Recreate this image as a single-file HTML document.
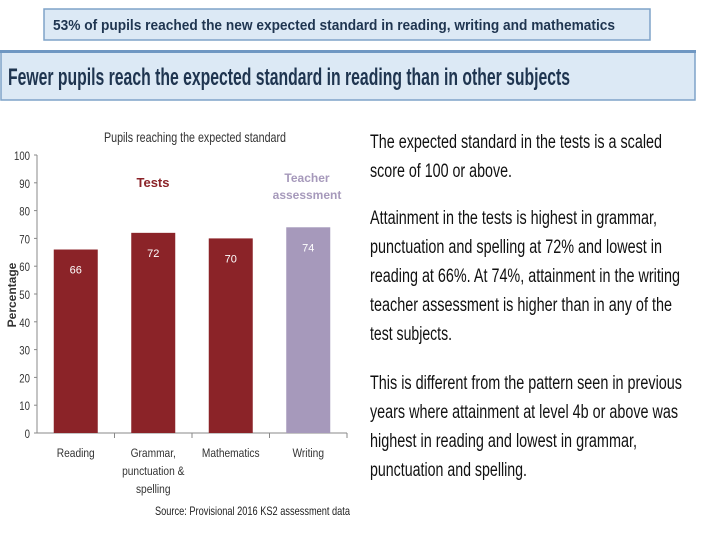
<!DOCTYPE html>
<html><head><meta charset="utf-8"><style>
body{margin:0;background:#fff;width:720px;height:540px;overflow:hidden;font-family:"Liberation Sans",sans-serif}
</style></head><body>
<svg width="720" height="540" xmlns="http://www.w3.org/2000/svg" font-family="Liberation Sans, sans-serif">
<rect x="44" y="9" width="606" height="31" fill="#dce9f5" stroke="#7fa3c8" stroke-width="1.5"/>
<text x="53" y="30" font-size="15" fill="#1f3550" textLength="562" lengthAdjust="spacingAndGlyphs" font-weight="bold">53% of pupils reached the new expected standard in reading, writing and mathematics</text>
<rect x="1" y="51" width="694" height="49" fill="#dce9f5" stroke="#7fa3c8" stroke-width="1.5"/>
<rect x="0" y="50" width="696" height="3" fill="#6f97c2"/>
<text x="8" y="85" font-size="24" fill="#1f3550" textLength="562" lengthAdjust="spacingAndGlyphs" font-weight="bold">Fewer pupils reach the expected standard in reading than in other subjects</text>
<g id="chart"></g>
<g font-size="19" fill="#111">
<text x="370" y="148" textLength="292" lengthAdjust="spacingAndGlyphs">The expected standard in the tests is a scaled</text>
<text x="370" y="177" textLength="142" lengthAdjust="spacingAndGlyphs">score of 100 or above.</text>
<text x="370" y="224" textLength="287" lengthAdjust="spacingAndGlyphs">Attainment in the tests is highest in grammar,</text>
<text x="370" y="253" textLength="292" lengthAdjust="spacingAndGlyphs">punctuation and spelling at 72% and lowest in</text>
<text x="370" y="282" textLength="310" lengthAdjust="spacingAndGlyphs">reading at 66%. At 74%, attainment in the writing</text>
<text x="370" y="311" textLength="302" lengthAdjust="spacingAndGlyphs">teacher assessment is higher than in any of the</text>
<text x="370" y="340" textLength="82" lengthAdjust="spacingAndGlyphs">test subjects.</text>
<text x="370" y="389" textLength="312" lengthAdjust="spacingAndGlyphs">This is different from the pattern seen in previous</text>
<text x="370" y="418" textLength="308" lengthAdjust="spacingAndGlyphs">years where attainment at level 4b or above was</text>
<text x="370" y="447" textLength="267" lengthAdjust="spacingAndGlyphs">highest in reading and lowest in grammar,</text>
<text x="370" y="476" textLength="157" lengthAdjust="spacingAndGlyphs">punctuation and spelling.</text>
</g>
</svg>
<script>
const categories=[["Reading"],["Grammar,","punctuation &","spelling"],["Mathematics"],["Writing"]];
const values=[66,72,70,74];
const valueLabels=["66","72","70","74"];
const yTicks=[0,10,20,30,40,50,60,70,80,90,100];
const NS="http://www.w3.org/2000/svg";
const g=document.getElementById('chart');
const x0=37,x1=347,yb=433,yt=155;
const y=v=>yb-(v/100)*(yb-yt);
const bw=(x1-x0)/values.length;
function mk(t,a,txt){const e=document.createElementNS(NS,t);for(const k in a)e.setAttribute(k,a[k]);if(txt!==undefined)e.textContent=txt;g.appendChild(e);return e;}
let e=mk('text',{x:195,y:142,'font-size':14,'text-anchor':'middle',fill:'#333',textLength:182,lengthAdjust:'spacingAndGlyphs'},'Pupils reaching the expected standard');


e=mk('line',{x1:x0,y1:yt,x2:x0,y2:yb,stroke:'#888'});


e=mk('line',{x1:x0,y1:yb,x2:x1,y2:yb,stroke:'#888'});


yTicks.forEach(t=>{
  mk('line',{x1:x0-3,y1:y(t),x2:x0,y2:y(t),stroke:'#888'});
  e=mk('text',{x:30,y:y(t)+5,'font-size':12,'text-anchor':'end',fill:'#333',transform:`translate(30 0) scale(0.8 1) translate(-30 0)`},t);
  
  
});
e=mk('text',{x:0,y:0,'font-size':12,'font-weight':'bold','text-anchor':'middle',fill:'#333',transform:'translate(16 295) rotate(-90)'},'Percentage');


values.forEach((v,i)=>{
  const cx=x0+bw*(i+0.5);
  mk('line',{x1:x0+bw*(i+1),y1:yb,x2:x0+bw*(i+1),y2:yb+5,stroke:'#888'});
  e=mk('rect',{x:cx-22,y:y(v),width:44,height:yb-y(v),fill:i==3?'#a699bb':'#8b2328'});
  
  
  e=mk('text',{x:cx,y:y(v)+24,'font-size':11,'text-anchor':'middle',fill:'#fff'},valueLabels[i]);
  
  
  categories[i].forEach((l,j)=>{
    e=mk('text',{x:cx,y:457+j*18,'font-size':12,'text-anchor':'middle',fill:'#333',transform:`translate(${cx} 0) scale(0.85 1) translate(${-cx} 0)`},l);
    
    
  });
});
e=mk('text',{x:153,y:187,'font-size':13,'font-weight':'bold','text-anchor':'middle',fill:'#8b2328'},'Tests');


e=mk('text',{x:307,y:182,'font-size':12,'font-weight':'bold','text-anchor':'middle',fill:'#a699bb'},'Teacher');


e=mk('text',{x:307,y:199,'font-size':12,'font-weight':'bold','text-anchor':'middle',fill:'#a699bb'},'assessment');


e=mk('text',{x:350,y:515,'font-size':12,'text-anchor':'end',fill:'#222',textLength:195,lengthAdjust:'spacingAndGlyphs'},'Source: Provisional 2016 KS2 assessment data');


</script>
</body></html>
